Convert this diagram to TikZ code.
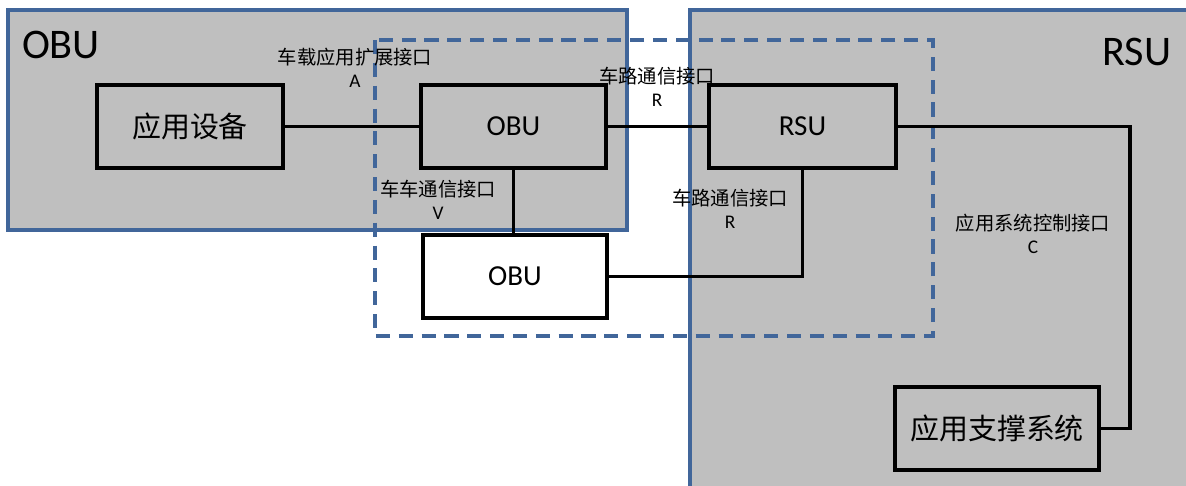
\documentclass[tikz,border=0pt]{standalone}
\usepackage{fontspec}
\setmainfont{Carlito}
\newfontfamily\cjk{Noto Sans CJK SC}
\usetikzlibrary{
    positioning,
    calc
}
\definecolor{zoneblue}{RGB}{65,102,154}
\definecolor{zonegray}{RGB}{191,191,191}

\begin{document}
\begin{tikzpicture}[
    x=0.02cm,
    y=-0.02cm,
    zone/.style={
        draw=zoneblue,
        line width=1.8pt,
        fill=zonegray
    },
    scope/.style={
        draw=zoneblue,
        line width=1.9pt,
        dash pattern=on 8pt off 5pt
    },
    unit/.style={
        draw=black,
        line width=2.2pt,
        fill=zonegray,
        minimum height=1.66cm,
        inner sep=0pt,
        font=\fontsize{16.5}{19}\selectfont
    },
    zonelabel/.style={
        font=\fontsize{24}{28}\selectfont,
        inner sep=0pt
    },
    iface/.style={
        align=center,
        inner sep=0pt,
        font=\fontsize{11}{13}\selectfont\cjk
    },
    link/.style={
        line width=2pt,
        draw=black
    }
]

\useasboundingbox (0,0) rectangle (1186,486);
\clip (0,0) rectangle (1186,486);

% zones
\draw[zone] (8,10) rectangle (627,230);
\draw[zone] (690,10) rectangle (1200,500);
\draw[scope] (375,40) rectangle (933,336);

\node[zonelabel] (obuzone) at (61,45) {OBU};
\node[zonelabel] (rsuzone) at (1137,52) {RSU};

% boxes
\node[unit, minimum width=3.72cm] (appdev) at (190,126.5) {\cjk 应用设备};
\node[unit, minimum width=3.70cm] (obu) at (513.5,126.5) {OBU};
\node[unit, minimum width=3.74cm] (rsu) at (802.5,126.5) {RSU};
\node[unit, fill=white, minimum width=3.68cm] (peer) at (515,276.5) {OBU};
\node[unit, minimum width=4.08cm] (support) at (997,428.5) {\cjk 应用支撑系统};

% interface labels
\node[iface] (ifA) at (355,68) {车载应用扩展接口\\{\fontsize{11}{11}\selectfont\rmfamily A}};
\node[iface] (ifR1) at (657,87) {车路通信接口\\{\fontsize{11}{11}\selectfont\rmfamily R}};
\node[iface] (ifV) at (438,200) {车车通信接口\\{\fontsize{11}{11}\selectfont\rmfamily V}};
\node[iface] (ifR2) at (730,209) {车路通信接口\\{\fontsize{11}{11}\selectfont\rmfamily R}};
\node[iface] (ifC) at (1033,234) {应用系统控制接口\\{\fontsize{11}{11}\selectfont\rmfamily C}};

% connectors
\coordinate (bend) at (1130,126.5);
\draw[link] (appdev) -- (obu);
\draw[link] (obu) -- (rsu);
\draw[link] (obu.south) -- (obu.south |- peer.north);
\draw[link] (peer.east) -| (rsu.south);
\draw[link] (rsu.east) -- (bend) |- (support.east);

\end{tikzpicture}
\end{document}
